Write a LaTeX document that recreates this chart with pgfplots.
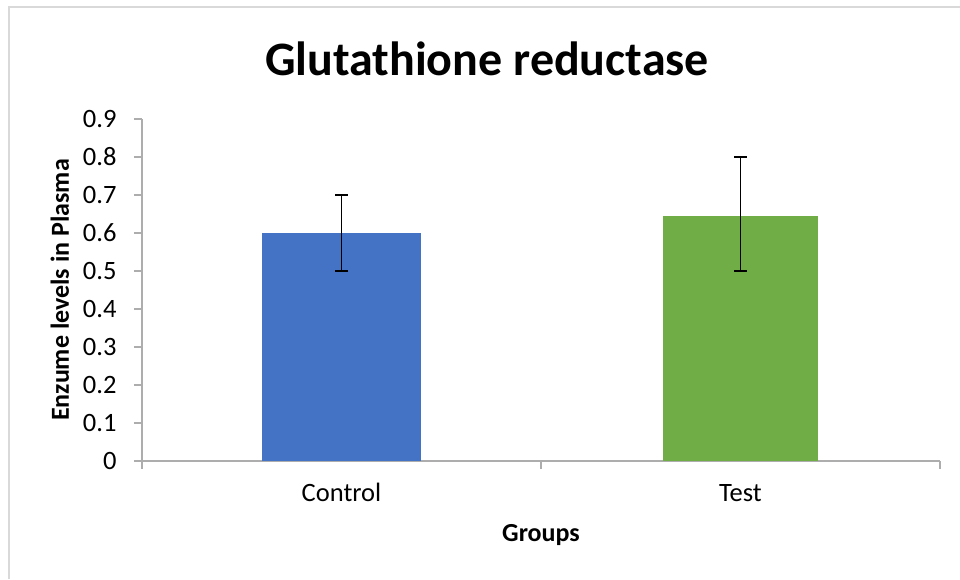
\documentclass[border=0pt]{standalone}
\usepackage{pgfplots}
\pgfplotsset{compat=1.18}
\usepackage{fontspec}
\setmainfont{Carlito}
\definecolor{barblue}{HTML}{4472C4}
\definecolor{bargreen}{HTML}{70AD47}
\definecolor{axgray}{HTML}{ADADAD}
\definecolor{bordergray}{HTML}{D9D9D9}
\begin{document}
\begin{tikzpicture}[x=1pt,y=1pt]
\useasboundingbox (0,0) rectangle (960,579);
\draw[bordergray, line width=2pt] (9,0) -- (9,572) -- (960,572);
\node[font=\fontsize{48}{56}\selectfont\bfseries] at (487,520) {Glutathione reductase};
\begin{axis}[
  at={(142pt,118pt)}, anchor=south west,
  scale only axis, width=798pt, height=342pt,
  xmin=0, xmax=2, ymin=0, ymax=0.9,
  axis x line*=bottom, axis y line*=left,
  axis line style={axgray, line width=1.6pt},
  every tick/.style={axgray, line width=1.6pt},
  tick align=outside, major tick length=8pt,
  xtick={0,1,2}, xticklabels={},
  extra x ticks={0.5,1.5}, extra x tick labels={Control,Test},
  extra x tick style={major tick length=0pt,
    tick label style={text height=18pt, text depth=6pt, yshift=-19pt}},
  ytick={0,0.1,...,0.9},
  /pgf/number format/assume math mode=true,
  yticklabel style={/pgf/number format/fixed, xshift=-14pt},
  tick label style={font=\fontsize{26.5}{30}\selectfont},
  xlabel={Groups}, ylabel={Enzume levels in Plasma},
  label style={font=\fontsize{26}{30}\selectfont\bfseries},
  xlabel style={at={(axis description cs:0.5,-0.217)}, anchor=center},
  ylabel style={at={(axis description cs:-0.1028,0.5)}, anchor=center},
  clip=false,
]
\addplot[ybar, bar width=0.4, fill=barblue, draw=none,
  error bars/.cd, y dir=both, y explicit,
  error bar style={black, line width=1.7pt},
  error mark options={black, rotate=90, mark size=6.5pt, line width=1.7pt}]
  coordinates {(0.5,0.6) += (0,0.1) -= (0,0.1)};
\addplot[ybar, bar width=0.39, fill=bargreen, draw=none,
  error bars/.cd, y dir=both, y explicit,
  error bar style={black, line width=1.7pt},
  error mark options={black, rotate=90, mark size=6.5pt, line width=1.7pt}]
  coordinates {(1.5,0.645) += (0,0.155) -= (0,0.145)};
\end{axis}
\end{tikzpicture}
\end{document}
